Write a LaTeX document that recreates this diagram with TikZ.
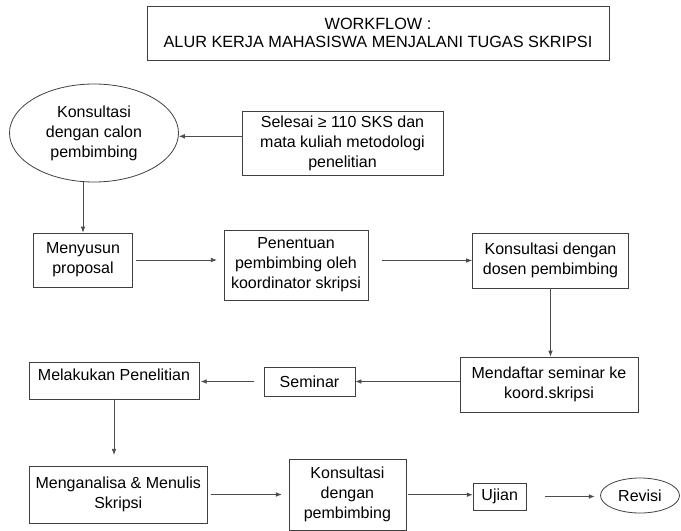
\documentclass[tikz,border=0pt]{standalone}
\usepackage{fontspec}
\setmainfont{Liberation Sans}
\usetikzlibrary{arrows.meta,positioning,shapes.geometric}

\begin{document}
\begin{tikzpicture}[
    x=0.75pt, y=-0.75pt,
    font=\fontsize{12}{15}\selectfont,
    box/.style={
      draw=black!75,
      line width=0.6pt,
      align=center,
      inner sep=2pt
    },
    oval/.style={
      ellipse,
      draw=black!75,
      line width=0.6pt,
      align=center,
      inner sep=1pt
    },
    flow/.style={-{Latex[length=4.5pt,width=3.5pt]}, draw=black!70, line width=0.6pt}
  ]
    \useasboundingbox (0,0) rectangle (681,531);
    \node[box, minimum width=346.5pt, minimum height=40.5pt,
      font=\fontsize{12.2}{13}\selectfont] (judul) at (378,33) {
      WORKFLOW :\\
      ALUR KERJA MAHASISWA MENJALANI TUGAS SKRIPSI
    };
    \node[oval, minimum width=126.75pt, minimum height=73.5pt] (calon) at (94,133) {
      Konsultasi\\
      dengan calon\\
      pembimbing
    };
    \node[box, minimum width=150.75pt, minimum height=48pt] (syarat) at (342.5,143) {
      Selesai ≥ 110 SKS dan\\
      mata kuliah metodologi\\
      penelitian
    };
    \node[box, minimum width=74.25pt, minimum height=40.5pt] (proposal) at (83,260) {
      Menyusun\\
      proposal
    };
    \node[box, minimum width=108pt, minimum height=52.5pt] (penentuan) at (296,265) {
      Penentuan\\
      pembimbing oleh\\
      koordinator skripsi
    };
    \node[box, minimum width=117pt, minimum height=41.25pt] (dosen) at (550.5,260.5) {
      Konsultasi dengan\\
      dosen pembimbing
    };
    \node[box, minimum width=133.5pt, minimum height=41.25pt] (daftar) at (549,384.5) {
      Mendaftar seminar ke\\
      koord.skripsi
    };
    \node[box, minimum width=68.25pt, minimum height=21.75pt] (seminar) at (309.5,381.5) {Seminar};
    \node[box, minimum width=127.5pt, minimum height=27.75pt, text depth=9pt] (teliti) at (114,380.5) {Melakukan Penelitian};
    \node[box, minimum width=134pt, minimum height=42.75pt] (analisa) at (118.3,494.5) {
      Menganalisa \& Menulis\\
      Skripsi
    };
    \node[box, minimum width=87.75pt, minimum height=53.5pt] (konsul) at (347.4,494.7) {
      Konsultasi\\
      dengan\\
      pembimbing
    };
    \node[box, minimum width=39.75pt, minimum height=20.25pt] (ujian) at (499.7,496.5) {Ujian};
    \node[oval, minimum width=59.25pt, minimum height=26.25pt] (revisi) at (640,495.5) {Revisi};

    \draw[flow] ([yshift=5pt]syarat.west) -- ([yshift=5pt]syarat.west -| calon.east);
    \draw[flow] (proposal |- calon.south) -- (proposal.north);
    \draw[flow, shorten <=2pt, shorten >=5pt] (proposal.east) -- (proposal.east -| penentuan.west);
    \draw[flow, shorten <=10pt] (dosen.west -| penentuan.east) -- (dosen.west);
    \draw[flow] (dosen.south) -- (dosen.south |- daftar.north);
    \draw[flow] (seminar.east -| daftar.west) -- (seminar.east);
    \draw[flow, shorten <=7pt, shorten >=1pt] (seminar.west) -- (seminar.west -| teliti.east);
    \draw[flow, shorten >=8pt] (teliti.south) -- (teliti.south |- analisa.north);
    \draw[flow, shorten <=2pt, shorten >=5pt] (analisa.east) -- (analisa.east -| konsul.west);
    \draw[flow, shorten <=1.5pt] (konsul.east) -- (konsul.east -| ujian.west);
    \draw[flow, shorten <=14pt, shorten >=4pt] (ujian.east) -- (ujian.east -| revisi.west);
  \end{tikzpicture}
\end{document}
